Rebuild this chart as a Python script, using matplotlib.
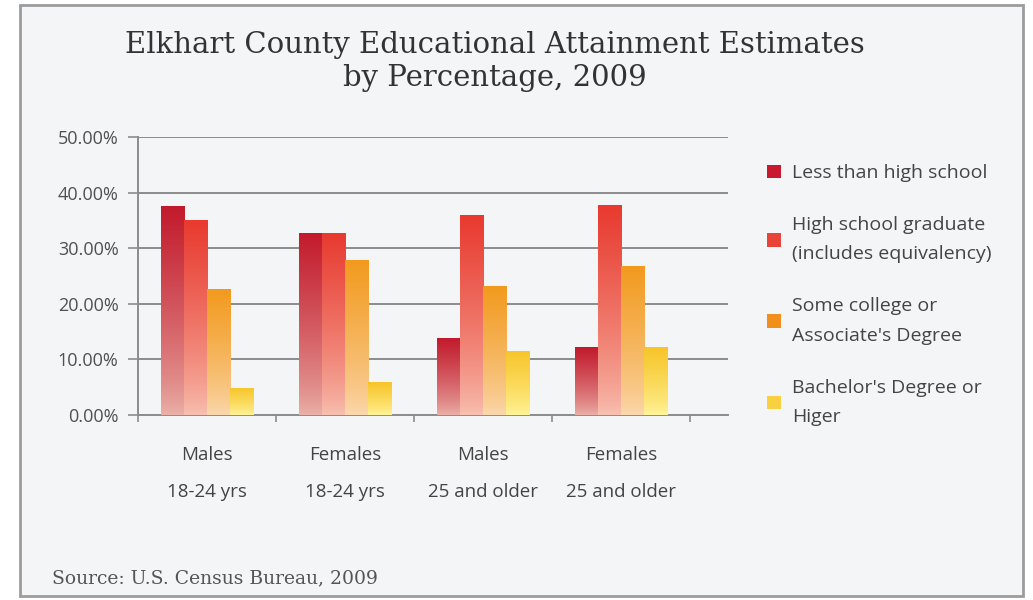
import numpy as np
import matplotlib
matplotlib.use("Agg")
import matplotlib.pyplot as plt
from matplotlib.colors import to_rgb
from matplotlib.patches import Rectangle
from matplotlib.ticker import PercentFormatter

# ---- data ----
categories = ["Males\n18-24 yrs", "Females\n18-24 yrs", "Males\n25 and older", "Females\n25 and older"]
series_names = ["Less than high school",
                "High school graduate\n(includes equivalency)",
                "Some college or\nAssociate's Degree",
                "Bachelor's Degree or\nHiger"]
less_than_hs = [0.375, 0.328, 0.138, 0.122]
hs_graduate = [0.351, 0.328, 0.360, 0.378]
some_college = [0.226, 0.279, 0.232, 0.268]
bachelors = [0.049, 0.059, 0.116, 0.122]
series_values = [less_than_hs, hs_graduate, some_college, bachelors]

top_colors = ["#C21A2C", "#E8392E", "#F29A1E", "#F7C52A"]
bottom_colors = ["#EBB3AA", "#F8C2B2", "#FBD9B0", "#FFF59C"]
legend_colors = ["#C8192E", "#E8443A", "#F28E1C", "#F8D040"]

W, H = 1033, 600
fig = plt.figure(figsize=(W / 100, H / 100), dpi=100)
fig.patch.set_facecolor("white")

# outer frame
frame = Rectangle((20 / W, 4 / H), 1003 / W, 591 / H, transform=fig.transFigure,
                  facecolor="#F4F5F6", edgecolor="#9C9C9C", linewidth=2.0, zorder=-10)
fig.patches.append(frame)

ax = fig.add_axes([138 / W, 1 - 415 / H, (728 - 138) / W, (415 - 137) / H])
ax.set_facecolor("none")
ax.set_zorder(1)

n = len(series_values)
width = 0.168
x = np.arange(len(categories))

for i, vals in enumerate(series_values):
    offs = (i - (n - 1) / 2) * width
    bars = ax.bar(x + offs, vals, width, color=legend_colors[i], label=series_names[i],
                  zorder=3, linewidth=0)
    c_top = np.array(to_rgb(top_colors[i]))
    c_bot = np.array(to_rgb(bottom_colors[i]))
    t = np.linspace(0, 1, 256)[:, None]  # 0 bottom -> 1 top
    t2 = t ** 0.75
    grad = c_bot[None, :] * (1 - t2) + c_top[None, :] * t2
    grad = grad[:, None, :]
    for b in bars:
        x0, y0 = b.get_x(), b.get_y()
        w, h = b.get_width(), b.get_height()
        im = ax.imshow(grad, extent=(x0, x0 + w, y0, y0 + h), origin="lower",
                       aspect="auto", zorder=4, interpolation="bilinear")
        im.set_clip_path(b)

ax.set_xlim(-0.5, 3.775)
ax.set_ylim(0, 0.5)

# grid & axes
ax.yaxis.set_major_locator(matplotlib.ticker.MultipleLocator(0.1))
ax.yaxis.set_major_formatter(PercentFormatter(1.0, decimals=2))
ax.grid(axis="y", color="#8C8C8C", linewidth=1.4, zorder=1)
ax.set_axisbelow(True)
for s in ["top", "right"]:
    ax.spines[s].set_visible(False)
for s in ["left", "bottom"]:
    ax.spines[s].set_color("#8C8C8C")
    ax.spines[s].set_linewidth(1.4)

sans = ["Open Sans", "DejaVu Sans"]
ax.tick_params(axis="y", length=7, width=1.2, color="#8C8C8C", labelsize=13,
               labelcolor="#505050", pad=7)
for lab in ax.get_yticklabels():
    lab.set_family(sans)

ax.set_xticks(np.arange(-0.5, 4, 1.0))
ax.set_xticklabels([])
ax.tick_params(axis="x", which="major", length=5, width=1.2, color="#8C8C8C")
ax.set_xticks(x, minor=True)
ax.set_xticklabels(categories, minor=True, fontsize=13.5, color="#444444", family=sans,
                   linespacing=2.4)
ax.tick_params(axis="x", which="minor", length=0, pad=22)

leg = ax.legend(loc="upper left", bbox_to_anchor=(1.036, 0.965), frameon=False,
                prop={"family": sans, "size": 14}, labelcolor="#444444",
                handlelength=0.72, handleheight=0.72, handletextpad=0.6,
                labelspacing=1.75)
for t in leg.get_texts():
    t.set_linespacing(1.8)

fig.text(495 / W, 1 - 61.5 / H, "Elkhart County Educational Attainment Estimates\nby Percentage, 2009",
         ha="center", va="center", family="DejaVu Serif", fontsize=21, color="#333333",
         linespacing=1.22)
fig.text(52 / W, 1 - 578 / H, "Source: U.S. Census Bureau, 2009", ha="left", va="center",
         family="DejaVu Serif", fontsize=13.5, color="#555555")

fig.savefig("out.png", dpi=100, facecolor=fig.get_facecolor())
